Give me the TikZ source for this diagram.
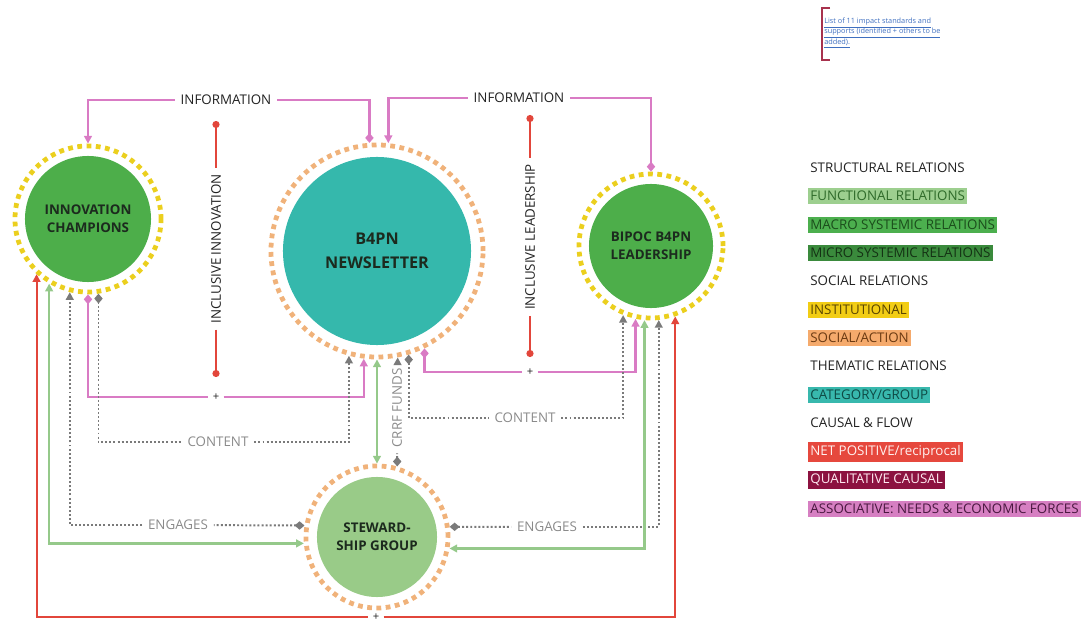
\documentclass[tikz,border=0pt]{standalone}
\usepackage{fontspec}
\setmainfont{Open Sans}
\usetikzlibrary{arrows.meta}

\definecolor{ringyellow}{HTML}{EBCF1E}
\definecolor{ringorange}{HTML}{F0B27A}
\definecolor{hubgreen}{HTML}{4DAE4A}
\definecolor{hubteal}{HTML}{35B8AC}
\definecolor{hublight}{HTML}{99CB88}
\definecolor{hubtext}{HTML}{1C2A1E}
\definecolor{linkpink}{HTML}{D97BC4}
\definecolor{linkred}{HTML}{E2463B}
\definecolor{linkgreen}{HTML}{95C98A}
\definecolor{linkgray}{HTML}{7A7A7A}
\definecolor{labeltext}{HTML}{222222}
\definecolor{graytext}{HTML}{8A8A8A}
\definecolor{notebrk}{HTML}{A8324E}
\definecolor{noteblue}{HTML}{3F6FBF}
\definecolor{lgfunc}{HTML}{9DCF8F}
\definecolor{lgfunctext}{HTML}{2F6B2A}
\definecolor{lgmacro}{HTML}{4CAF4E}
\definecolor{lgmacrotext}{HTML}{1B4D1B}
\definecolor{lgmicro}{HTML}{3A8A3C}
\definecolor{lgmicrotext}{HTML}{143214}
\definecolor{lginst}{HTML}{F2CD14}
\definecolor{lginsttext}{HTML}{5A4500}
\definecolor{lgsocial}{HTML}{F5AA6C}
\definecolor{lgsocialtext}{HTML}{6B3A12}
\definecolor{lgcat}{HTML}{38B8AD}
\definecolor{lgcattext}{HTML}{0E4A45}
\definecolor{lgnet}{HTML}{E6483D}
\definecolor{lgnettext}{HTML}{FFF0EE}
\definecolor{lgqual}{HTML}{8C1240}
\definecolor{lgqualtext}{HTML}{FFE8F0}
\definecolor{lgassoc}{HTML}{D67FC2}
\definecolor{lgassoctext}{HTML}{4A1840}

\begin{document}
\begin{tikzpicture}[x=0.025cm,y=-0.025cm]
\tikzset{
  ring/.style={circle,line width=3.4pt,dash pattern=on 3.4pt off 3.2pt,outer sep=1.7pt,inner sep=0pt},
  yring/.style={ring,draw=ringyellow},
  oring/.style={ring,draw=ringorange},
  hub/.style={circle,inner sep=0pt,align=center,text=hubtext,font=\bfseries\fontsize{9.5}{12.8}\selectfont},
  linklabel/.style={inner xsep=4pt,inner ysep=2pt,font=\fontsize{9.5}{11}\selectfont,text=labeltext},
  graylabel/.style={linklabel,text=graytext},
  pluslabel/.style={inner sep=3pt,font=\fontsize{8}{9}\selectfont,text=labeltext},
  pinkline/.style={draw=linkpink,line width=1.8pt},
  redline/.style={draw=linkred,line width=1.5pt},
  greenline/.style={draw=linkgreen,line width=1.6pt},
  grayline/.style={draw=linkgray,line width=1.4pt,dash pattern=on 1.4pt off 1.5pt},
  diastart/.style={{Diamond[length=7pt,width=6pt]}-},
  tristart/.style={{Triangle[length=5.5pt,width=5.5pt]}-},
  triend/.style={-{Triangle[length=5.5pt,width=5.5pt]}},
  tritri/.style={{Triangle[length=5.5pt,width=5.5pt]}-{Triangle[length=5.5pt,width=5.5pt]}},
  dotstart/.style={{Circle[length=5pt]}-},
  dotend/.style={-{Circle[length=5pt]}},
  legend/.style={anchor=west,inner xsep=1.5pt,inner ysep=2.5pt,font=\fontsize{9.5}{11}\selectfont,text=labeltext}
}
\useasboundingbox (0,0) rectangle (1081,623);
% hubs
\node[yring,minimum size=3.65cm] (n_ic) at (88,219) {};
\node[hub,fill=hubgreen,minimum size=3.15cm] (n_icIn) at (n_ic.center) {INNOVATION\\CHAMPIONS};
\node[oring,minimum size=5.3cm] (n_nl) at (377,251) {};
\node[hub,fill=hubteal,minimum size=4.7cm,font=\bfseries\fontsize{11.5}{17}\selectfont] (n_nlIn) at (n_nl.center) {B4PN\\NEWSLETTER};
\node[yring,minimum size=3.6cm] (n_bl) at (651,246) {};
\node[hub,fill=hubgreen,minimum size=3.1cm] (n_blIn) at (n_bl.center) {BIPOC B4PN\\LEADERSHIP};
\node[oring,minimum size=3.55cm] (n_sg) at (377,537) {};
\node[hub,fill=hublight,minimum size=3.0cm] (n_sgIn) at (n_sg.center) {STEWARD-\\SHIP GROUP};
% labels on the links
\node[linklabel] (l_infoL) at (226,100) {INFORMATION};
\node[linklabel] (l_infoR) at (519,98) {INFORMATION};
\node[linklabel,rotate=90] (l_incInno) at (216,249) {INCLUSIVE INNOVATION};
\node[linklabel,rotate=90] (l_incLead) at (530,237) {INCLUSIVE LEADERSHIP};
\node[pluslabel] (l_plusL) at (216,397) {+};
\node[pluslabel] (l_plusR) at (530,372) {+};
\node[pluslabel] (l_plusB) at (376,617) {+};
\node[graylabel] (l_contL) at (218,442) {CONTENT};
\node[graylabel] (l_contR) at (525,418) {CONTENT};
\node[graylabel,rotate=90] (l_crrf) at (397,408) {CRRF FUNDS};
\node[graylabel] (l_engL) at (178,525) {ENGAGES};
\node[graylabel] (l_engR) at (547,527) {ENGAGES};
\coordinate (c_iiTop) at (216,121);
\coordinate (c_iiBot) at (216,377);
\coordinate (c_ilTop) at (530,115);
\coordinate (c_ilBot) at (530,357);
% links
\draw[pinkline,diastart] (n_nl.94) |- (l_infoL);
\draw[pinkline,triend] (l_infoL) -| (n_ic.90);
\draw[pinkline,diastart] (n_bl.90) |- (l_infoR);
\draw[pinkline,triend] (l_infoR) -| (n_nl.84);
\draw[redline,dotstart] (c_iiTop) -- (l_incInno);
\draw[redline,dotend] (l_incInno) -- (c_iiBot);
\draw[redline,dotstart] (c_ilTop) -- (l_incLead);
\draw[redline,dotend] (l_incLead) -- (c_ilBot);
\draw[pinkline,diastart] (n_ic.-90) |- (l_plusL);
\draw[pinkline,triend] (l_plusL) -| (n_nl.-97);
\draw[pinkline,diastart] (n_nl.-64) |- (l_plusR);
\draw[pinkline,triend] (l_plusR) -| (n_bl.-102);
\draw[grayline,diastart] (n_ic.-82) |- (l_contL);
\draw[grayline,triend] (l_contL) -| (n_nl.-105);
\draw[grayline,diastart] (n_nl.-73) |- (l_contR);
\draw[grayline,triend] (l_contR) -| (n_bl.-112);
\draw[grayline,diastart] (n_sg.74) -- (l_crrf);
\draw[grayline,triend] (l_crrf) -- (n_nl.-79);
\draw[greenline,tritri] (n_sg.90) -- (n_nl.-90);
\draw[grayline,diastart] (n_sg.171) -- (l_engL);
\draw[grayline,triend] (l_engL) -| (n_ic.-104);
\draw[greenline,tritri] (n_ic.-121) |- (n_sg.-175);
\draw[grayline,diastart] (n_sg.8) -- (l_engR);
\draw[grayline,triend] (l_engR) -| (n_bl.-84);
\draw[greenline,tritri] (n_bl.-95) |- (n_sg.-9);
\draw[redline,tristart] (n_ic.-133) |- (l_plusB);
\draw[redline,triend] (l_plusB) -| (n_bl.-71);
% note
\draw[notebrk,line width=0.9pt] (830,8) -- (822,8) -- (822,60) -- (830,60);
\node[anchor=west,align=left,inner sep=0pt,text=noteblue,font=\fontsize{5.2}{7.5}\selectfont] (n_note) at (824,33)
  {\underline{List of 11 impact standards and}\\\underline{supports (identified + others to be}\\\underline{added).}};
% legend
\node[legend] (lg_struct) at (808,168) {STRUCTURAL RELATIONS};
\node[legend,fill=lgfunc,text=lgfunctext] (lg_func) at (808,196) {FUNCTIONAL RELATIONS};
\node[legend,fill=lgmacro,text=lgmacrotext] (lg_macro) at (808,225) {MACRO SYSTEMIC RELATIONS};
\node[legend,fill=lgmicro,text=lgmicrotext] (lg_micro) at (808,253) {MICRO SYSTEMIC RELATIONS};
\node[legend] (lg_social) at (808,281) {SOCIAL RELATIONS};
\node[legend,fill=lginst,text=lginsttext] (lg_inst) at (808,310) {INSTITUTIONAL};
\node[legend,fill=lgsocial,text=lgsocialtext] (lg_action) at (808,338) {SOCIAL/ACTION};
\node[legend] (lg_theme) at (808,366) {THEMATIC RELATIONS};
\node[legend,fill=lgcat,text=lgcattext] (lg_cat) at (808,395) {CATEGORY/GROUP};
\node[legend] (lg_causal) at (808,423) {CAUSAL \& FLOW};
\node[legend,fill=lgnet,text=lgnettext] (lg_net) at (808,452) {NET POSITIVE/reciprocal};
\node[legend,fill=lgqual,text=lgqualtext] (lg_qual) at (808,480) {QUALITATIVE CAUSAL};
\node[legend,fill=lgassoc,text=lgassoctext] (lg_assoc) at (808,509) {ASSOCIATIVE: NEEDS \& ECONOMIC FORCES};
\end{tikzpicture}
\end{document}
